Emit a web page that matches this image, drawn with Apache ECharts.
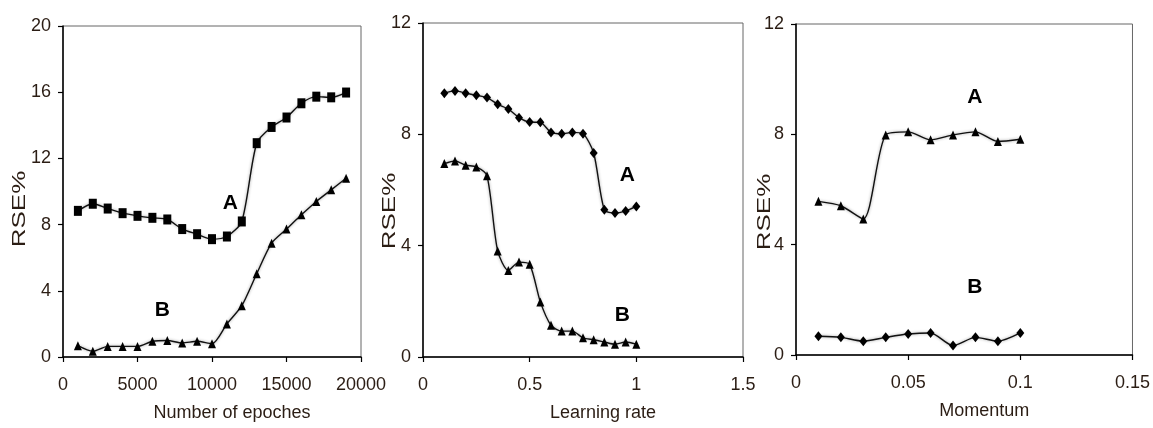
<!DOCTYPE html>
<html>
<head>
<meta charset="utf-8">
<script src="https://cdn.jsdelivr.net/npm/echarts@6/dist/echarts.min.js"></script>
<style>
html,body{margin:0;padding:0;background:#fff;}
#chart{width:1153px;height:428px;}
</style>
</head>
<body>
<div id="chart"></div>
<script>
// ---------- Data ----------
const epochs = [1000,2000,3000,4000,5000,6000,7000,8000,9000,10000,11000,12000,13000,14000,15000,16000,17000,18000,19000];
const epochsA = [8.83,9.26,8.97,8.69,8.53,8.41,8.31,7.73,7.42,7.12,7.28,8.19,12.92,13.9,14.47,15.33,15.73,15.69,15.98];
const epochsB = [0.68,0.34,0.64,0.64,0.64,0.95,1.0,0.85,0.95,0.8,2.0,3.1,5.03,6.88,7.73,8.59,9.4,10.1,10.8];

const lrates = [0.1,0.15,0.2,0.25,0.3,0.35,0.4,0.45,0.5,0.55,0.6,0.65,0.7,0.75,0.8,0.85,0.9,0.95,1.0];
const lrateA = [9.48,9.56,9.48,9.4,9.32,9.08,8.91,8.6,8.44,8.43,8.07,8.02,8.07,8.02,7.33,5.29,5.17,5.25,5.41];
const lrateB = [6.95,7.04,6.89,6.83,6.51,3.81,3.11,3.41,3.33,1.98,1.14,0.93,0.93,0.69,0.62,0.54,0.46,0.54,0.46];

const momenta = [0.01,0.02,0.03,0.04,0.05,0.06,0.07,0.08,0.09,0.1];
const momentumA = [5.57,5.41,4.93,7.98,8.09,7.8,7.98,8.09,7.74,7.82];
const momentumB = [0.68,0.64,0.5,0.64,0.76,0.8,0.34,0.64,0.5,0.8];

// annotation label anchors (data space)
const notesEpochs = [[11228,9.3,'A'],[6664,2.84,'B']];
const notesLrate = [[0.958,6.53,'A'],[0.934,1.5,'B']];
const notesMomentum = [[0.0797,9.36,'A'],[0.0797,2.44,'B']];

const xTitles = ['Number of epoches','Learning rate','Momentum'];
const yTitle = 'RSE%';

// ---------- Styles ----------
const txt = '#2b1d14';
const font = '"Liberation Sans",Arial,sans-serif';
const grids = [
  {left:63, right:792, top:26, bottom:71},
  {left:423, right:410, top:23, bottom:71},
  {left:796, right:20, top:24, bottom:73}
].map(g => Object.assign({show:true, borderColor:'#666', borderWidth:1, backgroundColor:'transparent'}, g));

function xAxis(i, max, interval, name){
  return {
    type:'value', gridIndex:i, min:0, max:max, interval:interval,
    name:name, nameLocation:'middle', nameGap:47,
    nameTextStyle:{fontFamily:font, fontSize:18, color:txt, padding:[0,0,0,40]},
    axisLine:{show:true, onZero:false, lineStyle:{color:'#000', width:1.5}},
    axisTick:{show:true, inside:false, length:5, lineStyle:{color:'#000', width:1.2}},
    axisLabel:{fontFamily:font, fontSize:18, color:txt, margin:19, formatter:v=>String(v)},
    splitLine:{show:false}
  };
}
function yAxis(i, max){
  return {
    type:'value', gridIndex:i, min:0, max:max, interval:4,
    axisLine:{show:true, onZero:false, lineStyle:{color:'#000', width:1.5}},
    axisTick:{show:true, inside:false, length:5, lineStyle:{color:'#000', width:1.2}},
    axisLabel:{fontFamily:font, fontSize:18, color:txt, margin:12, formatter:v=>String(v)},
    splitLine:{show:false}
  };
}
const lineStyle = {color:'#111', width:1.4, shadowBlur:3, shadowColor:'rgba(0,0,0,0.4)'};
function line(i, xs, ys, symbol, size){
  return {
    type:'line', xAxisIndex:i, yAxisIndex:i,
    data: xs.map((x,k)=>[x, ys[k]]),
    symbol:symbol, symbolSize:size, smooth:0.25,
    itemStyle:{color:'#000'}, lineStyle:lineStyle, z:3
  };
}
function notes(i, arr){
  return {
    type:'scatter', xAxisIndex:i, yAxisIndex:i, data:arr,
    symbolSize:2, itemStyle:{color:'rgba(0,0,0,0)', opacity:1},
    label:{show:true, position:'inside', formatter:p=>p.value[2],
      fontFamily:font, fontWeight:'bold', fontSize:21, color:'#000', opacity:1,
      textBorderWidth:0, textShadowBlur:0},
    silent:true, z:5
  };
}
const yCenters = [[20,209],[390,211],[765,212]];
const graphics = yCenters.map(c => ({
  type:'text', x:c[0], y:c[1], rotation:Math.PI/2, scaleY:0.74,
  style:{text:yTitle, fontFamily:font, fontSize:26,
    fill:txt, align:'center', verticalAlign:'middle'}
}));

const chart = echarts.init(document.getElementById('chart'), null, {renderer:'canvas'});
chart.setOption({
  animation:false,
  backgroundColor:'#fff',
  grid: grids,
  xAxis:[xAxis(0,20000,5000,xTitles[0]), xAxis(1,1.5,0.5,xTitles[1]), xAxis(2,0.15,0.05,xTitles[2])],
  yAxis:[yAxis(0,20), yAxis(1,12), yAxis(2,12)],
  series:[
    line(0, epochs, epochsA, 'rect', [8,10]),
    line(0, epochs, epochsB, 'triangle', [8,9]),
    line(1, lrates, lrateA, 'diamond', [8,10]),
    line(1, lrates, lrateB, 'triangle', [8,9]),
    line(2, momenta, momentumA, 'triangle', [8,9]),
    line(2, momenta, momentumB, 'diamond', [8,10]),
    notes(0, notesEpochs), notes(1, notesLrate), notes(2, notesMomentum)
  ],
  graphic: graphics
});
</script>
</body>
</html>
